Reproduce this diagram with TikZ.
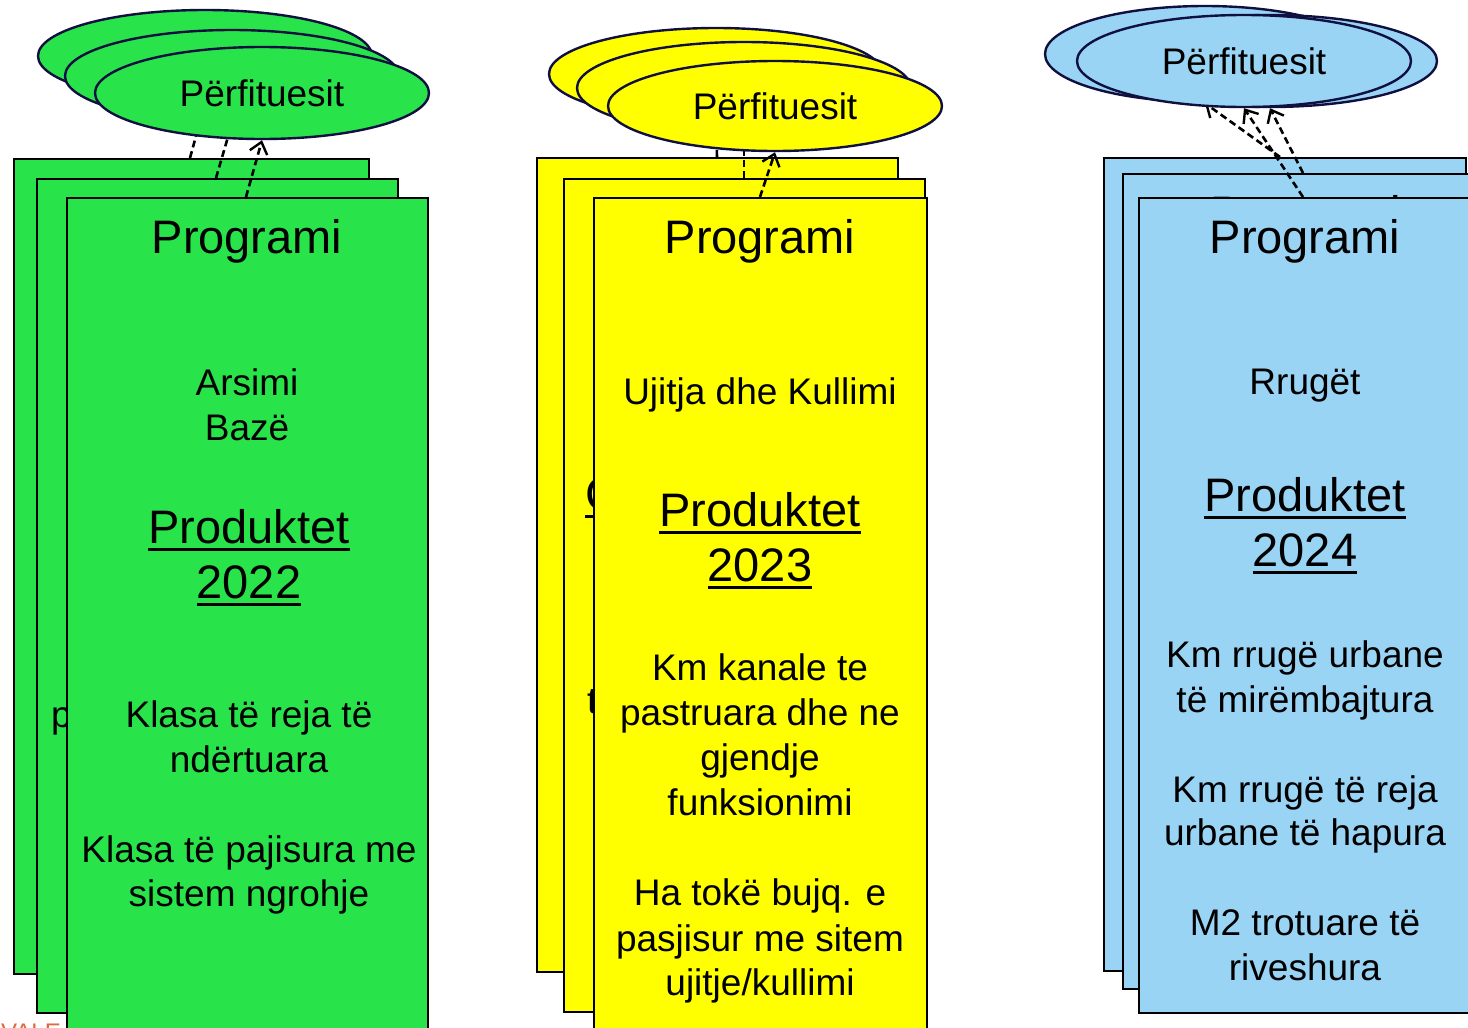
\documentclass[tikz,border=0pt]{standalone}
\usepackage{fontspec}
\setmainfont{Liberation Sans}
\usetikzlibrary{shapes.geometric,arrows.meta}
\definecolor{cgreen}{RGB}{40,228,74}
\definecolor{cyellow}{RGB}{255,255,0}
\definecolor{cblue}{RGB}{153,212,245}
\definecolor{cnavy}{RGB}{16,16,64}
\definecolor{corange}{RGB}{226,104,60}
\newcommand\myul[1]{\setbox0\hbox{#1}\rlap{\rule[-8pt]{\wd0}{2.8pt}}\box0}
\begin{document}
\begin{tikzpicture}[x=1pt,y=-1pt,
  card/.style={draw=black, line width=2pt, anchor=north west, inner sep=0pt, rectangle},
  benef/.style={ellipse, draw=cnavy, line width=2.4pt, minimum width=334pt, minimum height=92pt, inner sep=0pt, font=\fontsize{37}{44}\selectfont},
  dep/.style={draw=black, line width=2.6pt, dash pattern=on 7pt off 4pt, -{Straight Barb[length=11pt,width=18pt,line width=2.4pt]}},
  big/.style={anchor=base, font=\fontsize{47}{57}\selectfont, inner sep=0pt},
  small/.style={anchor=base, font=\fontsize{37}{45}\selectfont, inner sep=0pt},
]
\useasboundingbox (0,0) rectangle (1468,1028);
\clip (0,0) rectangle (1468,1028);

% ---------------- green column ----------------
\node[anchor=base west, text=corange, font=\fontsize{24}{24}\selectfont, inner sep=0pt] (vale) at (1,1040) {VALE};
\node[benef, fill=cgreen] (ge1) at (205,56) {};
\node[card, fill=cgreen, minimum width=355pt, minimum height=815pt] (g1) at (13,158) {};
\draw[dep] ([xshift=177pt]g1.north west) -- (ge1.south);
\node[benef, fill=cgreen] (ge2) at (232,76) {};
\node[card, fill=cgreen, minimum width=361pt, minimum height=834pt] (g2) at (36,178) {};
\node[small, anchor=base west] (gp) at (51,727) {p};
\draw[dep] ([xshift=180pt]g2.north west) -- (ge2.south);
\node[benef, fill=cgreen] (ge3) at (262,93) {Përfituesit};
\node[card, fill=cgreen, minimum width=361pt, minimum height=900pt] (g3) at (66,197) {};
\draw[dep] ([xshift=180pt]g3.north west) -- (ge3.south);
\node[big] (gt1) at (247,253) {Programi};
\node[small] (gt2) at (247,395) {Arsimi};
\node[small] (gt3) at (247,440) {Bazë};
\node[big] (gt4) at (249,543) {\myul{Produktet}};
\node[big] (gt5) at (249,598) {\myul{2022}};
\node[small] (gt6) at (249,727) {Klasa të reja të};
\node[small] (gt7) at (249,772) {ndërtuara};
\node[small] (gt8) at (249,862) {Klasa të pajisura me};
\node[small] (gt9) at (249,906) {sistem ngrohje};

% ---------------- yellow column ----------------
\node[benef, fill=cyellow] (ye1) at (716,74) {};
\node[card, fill=cyellow, minimum width=361pt, minimum height=814pt] (y1) at (536,157) {};
\draw[dep] ([xshift=181pt]y1.north west) -- (ye1.south);
\node[benef, fill=cyellow] (ye2) at (744,88) {};
\node[card, fill=cyellow, minimum width=361pt, minimum height=833pt] (y2) at (563,178) {};
\node[big, anchor=base west] (yc) at (585,510) {\myul{Ç}};
\node[small, anchor=base west] (yt) at (587,713) {t};
\draw[dep] ([xshift=181pt]y2.north west) -- (ye2.south);
\node[benef, fill=cyellow, minimum height=90pt] (ye3) at (775,106) {Përfituesit};
\node[card, fill=cyellow, minimum width=333pt, minimum height=900pt] (y3) at (593,197) {};
\draw[dep] ([xshift=167pt]y3.north west) -- (ye3.south);
\node[big] (yt1) at (760,253) {Programi};
\node[small] (yt2) at (760,404) {Ujitja dhe Kullimi};
\node[big] (yt3) at (760,526) {\myul{Produktet}};
\node[big] (yt4) at (760,581) {\myul{2023}};
\node[small] (yt5) at (760,680) {Km kanale te};
\node[small] (yt6) at (760,725) {pastruara dhe ne};
\node[small] (yt7) at (760,770) {gjendje};
\node[small] (yt8) at (760,815) {funksionimi};
\node[small] (yt9) at (760,905) {Ha tokë bujq. e};
\node[small] (yt10) at (760,951) {pasjisur me sitem};
\node[small] (yt11) at (760,995) {ujitje/kullimi};

% ---------------- blue column ----------------
\node[benef, fill=cblue, minimum width=320pt, minimum height=96pt] (be1) at (1205,54) {};
\node[card, fill=cblue, minimum width=362pt, minimum height=813pt] (b1) at (1103,157) {};
\draw[dep] ([xshift=177pt]b1.north west) -- (be1.south);
\node[benef, fill=cblue] (be2) at (1270,61) {};
\node[card, fill=cblue, minimum width=360pt, minimum height=815pt] (b2) at (1122,173) {};
\node[big] (bhid) at (1306,229) {Programi};
\draw[dep] ([xshift=181pt]b2.north west) -- (be2.south);
\node[benef, fill=cblue] (be3) at (1244,61) {Përfituesit};
\node[card, fill=cblue, minimum width=334pt, minimum height=815pt] (b3) at (1138,197) {};
\draw[dep] ([xshift=165pt]b3.north west) -- (be3.south);
\node[big] (bt1) at (1305,253) {Programi};
\node[small] (bt2) at (1305,394) {Rrugët};
\node[big] (bt3) at (1305,511) {\myul{Produktet}};
\node[big] (bt4) at (1305,566) {\myul{2024}};
\node[small] (bt5) at (1305,667) {Km rrugë urbane};
\node[small] (bt6) at (1305,712) {të mirëmbajtura};
\node[small] (bt7) at (1305,802) {Km rrugë të reja};
\node[small] (bt8) at (1305,845) {urbane të hapura};
\node[small] (bt9) at (1305,935) {M2 trotuare të};
\node[small] (bt10) at (1305,980) {riveshura};
\end{tikzpicture}
\end{document}
